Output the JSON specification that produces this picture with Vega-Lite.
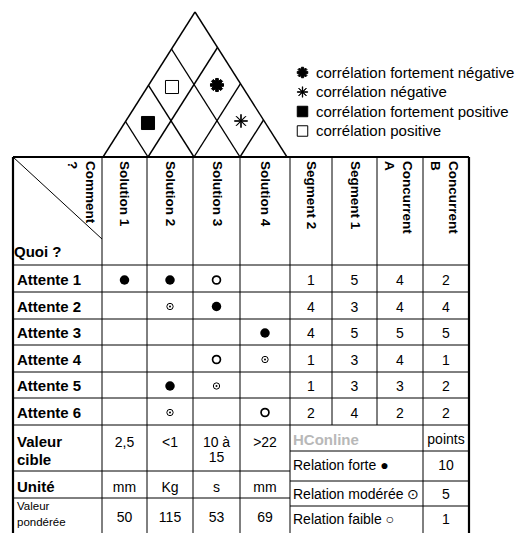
{
  "$schema": "https://vega.github.io/schema/vega-lite/v6.json",
  "width": 522,
  "height": 533,
  "autosize": {"type": "none"},
  "padding": 0,
  "background": "white",
  "view": {"stroke": null},
  "config": {"font": "Liberation Sans", "text": {"font": "Liberation Sans", "color": "black"}},
  "datasets": {
    "grid": [
      {"kind": "outer", "x": 13, "x2": 469, "y": 157, "y2": 157},
      {"kind": "outer", "x": 13, "x2": 13, "y": 157, "y2": 533},
      {"kind": "outer", "x": 469, "x2": 469, "y": 157, "y2": 533},
      {"kind": "inner", "x": 13, "x2": 469, "y": 265, "y2": 265},
      {"kind": "inner", "x": 13, "x2": 469, "y": 292, "y2": 292},
      {"kind": "inner", "x": 13, "x2": 469, "y": 319, "y2": 319},
      {"kind": "inner", "x": 13, "x2": 469, "y": 345, "y2": 345},
      {"kind": "inner", "x": 13, "x2": 469, "y": 372, "y2": 372},
      {"kind": "inner", "x": 13, "x2": 469, "y": 398, "y2": 398},
      {"kind": "inner", "x": 13, "x2": 469, "y": 425, "y2": 425},
      {"kind": "inner", "x": 290, "x2": 469, "y": 451, "y2": 451},
      {"kind": "inner", "x": 13, "x2": 290, "y": 471, "y2": 471},
      {"kind": "inner", "x": 290, "x2": 469, "y": 481, "y2": 481},
      {"kind": "inner", "x": 13, "x2": 290, "y": 498, "y2": 498},
      {"kind": "inner", "x": 290, "x2": 469, "y": 506, "y2": 506},
      {"kind": "inner", "x": 102, "x2": 102, "y": 157, "y2": 533},
      {"kind": "inner", "x": 147, "x2": 147, "y": 157, "y2": 533},
      {"kind": "inner", "x": 193, "x2": 193, "y": 157, "y2": 533},
      {"kind": "inner", "x": 240, "x2": 240, "y": 157, "y2": 533},
      {"kind": "inner", "x": 290, "x2": 290, "y": 157, "y2": 533},
      {"kind": "inner", "x": 332, "x2": 332, "y": 157, "y2": 425},
      {"kind": "inner", "x": 377, "x2": 377, "y": 157, "y2": 425},
      {"kind": "inner", "x": 423, "x2": 423, "y": 157, "y2": 533},
      {"kind": "inner", "x": 13, "x2": 102, "y": 157, "y2": 239},
      {"kind": "roof", "x": 103, "x2": 195, "y": 157, "y2": 12},
      {"kind": "roof", "x": 195, "x2": 287, "y": 12, "y2": 157},
      {"kind": "roof", "x": 148, "x2": 217.5, "y": 157, "y2": 47.5},
      {"kind": "roof", "x": 194, "x2": 240.5, "y": 157, "y2": 83.7},
      {"kind": "roof", "x": 240, "x2": 263.5, "y": 157, "y2": 120},
      {"kind": "roof", "x": 148, "x2": 125.5, "y": 157, "y2": 121.5},
      {"kind": "roof", "x": 194, "x2": 148.5, "y": 157, "y2": 85.3},
      {"kind": "roof", "x": 240, "x2": 171.5, "y": 157, "y2": 49}
    ],
    "cols": [
      {"comment": "Solution 1", "x": 124.5},
      {"comment": "Solution 2", "x": 170},
      {"comment": "Solution 3", "x": 216.5},
      {"comment": "Solution 4", "x": 265},
      {"comment": "Segment 2", "x": 311},
      {"comment": "Segment 1", "x": 354.5},
      {"comment": "Concurrent A", "x": 400},
      {"comment": "Concurrent B", "x": 446}
    ],
    "rows": [
      {"quoi": "Attente 1", "y": 280},
      {"quoi": "Attente 2", "y": 306.5},
      {"quoi": "Attente 3", "y": 333},
      {"quoi": "Attente 4", "y": 359.5},
      {"quoi": "Attente 5", "y": 386},
      {"quoi": "Attente 6", "y": 412.5},
      {"quoi": "Valeur cible", "y": 442},
      {"quoi": "Unité", "y": 487},
      {"quoi": "Valeur pondérée", "y": 517}
    ],
    "relations": [
      {"quoi": "Attente 1", "comment": "Solution 1", "relation": "forte"},
      {"quoi": "Attente 1", "comment": "Solution 2", "relation": "forte"},
      {"quoi": "Attente 1", "comment": "Solution 3", "relation": "faible"},
      {"quoi": "Attente 2", "comment": "Solution 2", "relation": "modérée"},
      {"quoi": "Attente 2", "comment": "Solution 3", "relation": "forte"},
      {"quoi": "Attente 3", "comment": "Solution 4", "relation": "forte"},
      {"quoi": "Attente 4", "comment": "Solution 3", "relation": "faible"},
      {"quoi": "Attente 4", "comment": "Solution 4", "relation": "modérée"},
      {"quoi": "Attente 5", "comment": "Solution 2", "relation": "forte"},
      {"quoi": "Attente 5", "comment": "Solution 3", "relation": "modérée"},
      {"quoi": "Attente 6", "comment": "Solution 2", "relation": "modérée"},
      {"quoi": "Attente 6", "comment": "Solution 4", "relation": "faible"}
    ],
    "scores": [
      {"quoi": "Attente 1", "comment": "Segment 2", "note": "1"},
      {"quoi": "Attente 1", "comment": "Segment 1", "note": "5"},
      {"quoi": "Attente 1", "comment": "Concurrent A", "note": "4"},
      {"quoi": "Attente 1", "comment": "Concurrent B", "note": "2"},
      {"quoi": "Attente 2", "comment": "Segment 2", "note": "4"},
      {"quoi": "Attente 2", "comment": "Segment 1", "note": "3"},
      {"quoi": "Attente 2", "comment": "Concurrent A", "note": "4"},
      {"quoi": "Attente 2", "comment": "Concurrent B", "note": "4"},
      {"quoi": "Attente 3", "comment": "Segment 2", "note": "4"},
      {"quoi": "Attente 3", "comment": "Segment 1", "note": "5"},
      {"quoi": "Attente 3", "comment": "Concurrent A", "note": "5"},
      {"quoi": "Attente 3", "comment": "Concurrent B", "note": "5"},
      {"quoi": "Attente 4", "comment": "Segment 2", "note": "1"},
      {"quoi": "Attente 4", "comment": "Segment 1", "note": "3"},
      {"quoi": "Attente 4", "comment": "Concurrent A", "note": "4"},
      {"quoi": "Attente 4", "comment": "Concurrent B", "note": "1"},
      {"quoi": "Attente 5", "comment": "Segment 2", "note": "1"},
      {"quoi": "Attente 5", "comment": "Segment 1", "note": "3"},
      {"quoi": "Attente 5", "comment": "Concurrent A", "note": "3"},
      {"quoi": "Attente 5", "comment": "Concurrent B", "note": "2"},
      {"quoi": "Attente 6", "comment": "Segment 2", "note": "2"},
      {"quoi": "Attente 6", "comment": "Segment 1", "note": "4"},
      {"quoi": "Attente 6", "comment": "Concurrent A", "note": "2"},
      {"quoi": "Attente 6", "comment": "Concurrent B", "note": "2"},
      {"quoi": "Valeur cible", "comment": "Solution 1", "note": "2,5"},
      {"quoi": "Valeur cible", "comment": "Solution 2", "note": "<1"},
      {"quoi": "Valeur cible", "comment": "Solution 3", "note": "10 à\n15"},
      {"quoi": "Valeur cible", "comment": "Solution 4", "note": ">22"},
      {"quoi": "Unité", "comment": "Solution 1", "note": "mm"},
      {"quoi": "Unité", "comment": "Solution 2", "note": "Kg"},
      {"quoi": "Unité", "comment": "Solution 3", "note": "s"},
      {"quoi": "Unité", "comment": "Solution 4", "note": "mm"},
      {"quoi": "Valeur pondérée", "comment": "Solution 1", "note": "50"},
      {"quoi": "Valeur pondérée", "comment": "Solution 2", "note": "115"},
      {"quoi": "Valeur pondérée", "comment": "Solution 3", "note": "53"},
      {"quoi": "Valeur pondérée", "comment": "Solution 4", "note": "69"}
    ],
    "correlations": [
      {"a": "Solution 1", "b": "Solution 2", "correlation": "corrélation fortement positive", "x": 148, "y": 123},
      {"a": "Solution 1", "b": "Solution 3", "correlation": "corrélation positive", "x": 172, "y": 87},
      {"a": "Solution 2", "b": "Solution 4", "correlation": "corrélation fortement négative", "x": 217, "y": 85},
      {"a": "Solution 3", "b": "Solution 4", "correlation": "corrélation négative", "x": 241, "y": 121}
    ],
    "labels": [
      {"role": "header", "label": "Comment\n?", "x": 90, "y": 161},
      {"role": "header", "label": "Solution 1", "x": 124, "y": 161},
      {"role": "header", "label": "Solution 2", "x": 170, "y": 161},
      {"role": "header", "label": "Solution 3", "x": 216.5, "y": 161},
      {"role": "header", "label": "Solution 4", "x": 265, "y": 161},
      {"role": "header", "label": "Segment 2", "x": 310.5, "y": 161},
      {"role": "header", "label": "Segment 1", "x": 354.5, "y": 161},
      {"role": "header", "label": "Concurrent\nA", "x": 406.5, "y": 161},
      {"role": "header", "label": "Concurrent\nB", "x": 453, "y": 161},
      {"role": "quoi", "label": "Quoi ?", "x": 14, "y": 252},
      {"role": "quoi", "label": "Attente 1", "x": 17, "y": 280},
      {"role": "quoi", "label": "Attente 2", "x": 17, "y": 306.5},
      {"role": "quoi", "label": "Attente 3", "x": 17, "y": 333},
      {"role": "quoi", "label": "Attente 4", "x": 17, "y": 359.5},
      {"role": "quoi", "label": "Attente 5", "x": 17, "y": 386},
      {"role": "quoi", "label": "Attente 6", "x": 17, "y": 412.5},
      {"role": "quoi", "label": "Valeur\ncible", "x": 17, "y": 442},
      {"role": "quoi", "label": "Unité", "x": 17, "y": 487},
      {"role": "note", "label": "Valeur\npondérée", "x": 17, "y": 507},
      {"role": "brand", "label": "HConline", "x": 293, "y": 440},
      {"role": "key", "label": "Relation forte ●", "x": 293, "y": 466},
      {"role": "key", "label": "Relation modérée ⊙", "x": 293, "y": 495},
      {"role": "key", "label": "Relation faible ○", "x": 293, "y": 520},
      {"role": "points", "label": "points", "x": 446, "y": 440},
      {"role": "points", "label": "10", "x": 446, "y": 466},
      {"role": "points", "label": "5", "x": 446, "y": 495},
      {"role": "points", "label": "1", "x": 446, "y": 520}
    ]
  },
  "encoding": {
    "x": {"field": "x", "type": "quantitative", "scale": {"domain": [0, 522], "nice": false, "zero": false}, "axis": null},
    "y": {"field": "y", "type": "quantitative", "scale": {"domain": [0, 533], "nice": false, "zero": false, "reverse": true}, "axis": null}
  },
  "layer": [
    {
      "data": {"name": "grid"},
      "transform": [{"filter": "datum.kind === 'inner'"}],
      "mark": {"type": "rule", "color": "black", "strokeWidth": 1},
      "encoding": {"x2": {"field": "x2"}, "y2": {"field": "y2"}}
    },
    {
      "data": {"name": "grid"},
      "transform": [{"filter": "datum.kind === 'roof'"}],
      "mark": {"type": "rule", "color": "black", "strokeWidth": 1.4},
      "encoding": {"x2": {"field": "x2"}, "y2": {"field": "y2"}}
    },
    {
      "data": {"name": "grid"},
      "transform": [{"filter": "datum.kind === 'outer'"}],
      "mark": {"type": "rule", "color": "black", "strokeWidth": 2.2},
      "encoding": {"x2": {"field": "x2"}, "y2": {"field": "y2"}}
    },
    {
      "data": {"name": "correlations"},
      "mark": {"type": "point", "filled": true, "strokeWidth": 1, "size": 170, "opacity": 1},
      "encoding": {
        "shape": {
          "field": "correlation", "type": "nominal",
          "scale": {
            "domain": ["corrélation fortement négative", "corrélation négative", "corrélation fortement positive", "corrélation positive"],
            "range": [
              "M-1,-0.21L1,-0.21L1,0.21L-1,0.21ZM0.21,-1L0.21,1L-0.21,1L-0.21,-1ZM-0.558,-0.856L0.856,0.558L0.558,0.856L-0.856,-0.558ZM-0.856,0.558L0.558,-0.856L0.856,-0.558L-0.558,0.856Z",
              "M-1,-0.03L1,-0.03L1,0.03L-1,0.03ZM0.03,-1L0.03,1L-0.03,1L-0.03,-1ZM-0.686,-0.728L0.728,0.686L0.686,0.728L-0.728,-0.686ZM-0.728,0.686L0.686,-0.728L0.728,-0.686L-0.686,0.728Z",
              "square",
              "square"
            ]
          },
          "legend": {"title": null, "orient": "none", "legendX": 295, "legendY": 65, "padding": 0, "labelFont": "Liberation Sans", "labelFontSize": 15, "labelColor": "black", "labelOffset": 6, "rowPadding": 3.5, "symbolSize": 110, "symbolStrokeWidth": 1, "symbolOpacity": 1, "labelLimit": 0}
        },
        "fill": {
          "field": "correlation", "type": "nominal",
          "scale": {
            "domain": ["corrélation fortement négative", "corrélation négative", "corrélation fortement positive", "corrélation positive"],
            "range": ["black", "black", "black", "white"]
          },
          "legend": {"title": null, "orient": "none", "legendX": 295, "legendY": 65, "padding": 0, "labelFont": "Liberation Sans", "labelFontSize": 15, "labelColor": "black", "labelOffset": 6, "rowPadding": 3.5, "symbolSize": 110, "symbolStrokeWidth": 1, "symbolOpacity": 1, "labelLimit": 0}
        },
        "stroke": {
          "field": "correlation", "type": "nominal",
          "scale": {
            "domain": ["corrélation fortement négative", "corrélation négative", "corrélation fortement positive", "corrélation positive"],
            "range": ["black", "black", "black", "black"]
          },
          "legend": {"title": null, "orient": "none", "legendX": 295, "legendY": 65, "padding": 0, "labelFont": "Liberation Sans", "labelFontSize": 15, "labelColor": "black", "labelOffset": 6, "rowPadding": 3.5, "symbolSize": 110, "symbolStrokeWidth": 1, "symbolOpacity": 1, "labelLimit": 0}
        }
      }
    },
    {
      "data": {"name": "relations"},
      "transform": [
        {"filter": "datum.relation === 'forte'"},
        {"lookup": "comment", "from": {"data": {"name": "cols"}, "key": "comment", "fields": ["x"]}},
        {"lookup": "quoi", "from": {"data": {"name": "rows"}, "key": "quoi", "fields": ["y"]}}
      ],
      "mark": {"type": "point", "shape": "circle", "filled": true, "color": "black", "size": 90, "opacity": 1}
    },
    {
      "data": {"name": "relations"},
      "transform": [
        {"filter": "datum.relation === 'faible'"},
        {"lookup": "comment", "from": {"data": {"name": "cols"}, "key": "comment", "fields": ["x"]}},
        {"lookup": "quoi", "from": {"data": {"name": "rows"}, "key": "quoi", "fields": ["y"]}}
      ],
      "mark": {"type": "point", "shape": "circle", "filled": false, "color": "black", "strokeWidth": 1.7, "size": 62, "opacity": 1}
    },
    {
      "data": {"name": "relations"},
      "transform": [
        {"filter": "datum.relation === 'modérée'"},
        {"lookup": "comment", "from": {"data": {"name": "cols"}, "key": "comment", "fields": ["x"]}},
        {"lookup": "quoi", "from": {"data": {"name": "rows"}, "key": "quoi", "fields": ["y"]}}
      ],
      "mark": {"type": "point", "shape": "circle", "filled": false, "color": "black", "strokeWidth": 1, "size": 40, "opacity": 1}
    },
    {
      "data": {"name": "relations"},
      "transform": [
        {"filter": "datum.relation === 'modérée'"},
        {"lookup": "comment", "from": {"data": {"name": "cols"}, "key": "comment", "fields": ["x"]}},
        {"lookup": "quoi", "from": {"data": {"name": "rows"}, "key": "quoi", "fields": ["y"]}}
      ],
      "mark": {"type": "point", "shape": "circle", "filled": true, "color": "black", "size": 4, "opacity": 1}
    },
    {
      "data": {"name": "scores"},
      "transform": [
        {"lookup": "comment", "from": {"data": {"name": "cols"}, "key": "comment", "fields": ["x"]}},
        {"lookup": "quoi", "from": {"data": {"name": "rows"}, "key": "quoi", "fields": ["y"]}}
      ],
      "mark": {"type": "text", "align": "center", "baseline": "top", "dy": -6, "fontSize": 14, "lineHeight": 15, "lineBreak": "\n"},
      "encoding": {"text": {"field": "note"}}
    },
    {
      "data": {"name": "labels"},
      "transform": [{"filter": "datum.role === 'header'"}],
      "mark": {"type": "text", "angle": 90, "align": "left", "baseline": "middle", "fontSize": 13.5, "fontWeight": "bold", "lineHeight": 18, "lineBreak": "\n"},
      "encoding": {"text": {"field": "label"}}
    },
    {
      "data": {"name": "labels"},
      "transform": [{"filter": "datum.role === 'quoi'"}],
      "mark": {"type": "text", "align": "left", "baseline": "middle", "fontSize": 15, "fontWeight": "bold", "lineHeight": 18, "lineBreak": "\n"},
      "encoding": {"text": {"field": "label"}}
    },
    {
      "data": {"name": "labels"},
      "transform": [{"filter": "datum.role === 'note'"}],
      "mark": {"type": "text", "align": "left", "baseline": "middle", "fontSize": 11.5, "lineHeight": 16, "lineBreak": "\n"},
      "encoding": {"text": {"field": "label"}}
    },
    {
      "data": {"name": "labels"},
      "transform": [{"filter": "datum.role === 'brand'"}],
      "mark": {"type": "text", "align": "left", "baseline": "middle", "fontSize": 15, "fontWeight": "bold", "color": "#b8b8b8"},
      "encoding": {"text": {"field": "label"}}
    },
    {
      "data": {"name": "labels"},
      "transform": [{"filter": "datum.role === 'key'"}],
      "mark": {"type": "text", "align": "left", "baseline": "middle", "fontSize": 14},
      "encoding": {"text": {"field": "label"}}
    },
    {
      "data": {"name": "labels"},
      "transform": [{"filter": "datum.role === 'points'"}],
      "mark": {"type": "text", "align": "center", "baseline": "middle", "fontSize": 14},
      "encoding": {"text": {"field": "label"}}
    }
  ]
}
